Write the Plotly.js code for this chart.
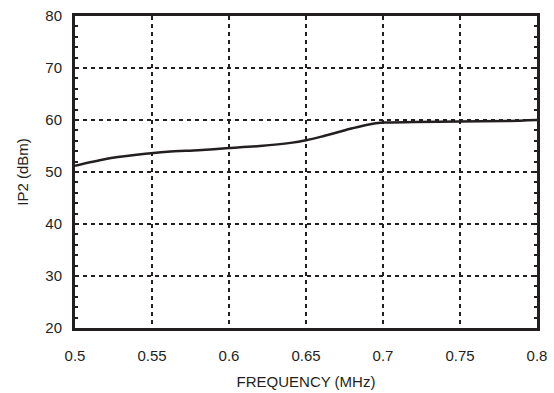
<!DOCTYPE html>
<html>
<head>
<meta charset="utf-8">
<script src="https://cdn.plot.ly/plotly-3.0.1.min.js"></script>
<style>html,body{margin:0;padding:0;background:#fff;}#chart{width:554px;height:393px;}</style>
</head>
<body>
<div id="chart"></div>
<script>
const freqMHz = [0.5, 0.52, 0.54, 0.56, 0.58, 0.6, 0.62, 0.64, 0.65, 0.66, 0.67, 0.68, 0.69, 0.7, 0.72, 0.75, 0.78, 0.8];
const ip2dBm  = [51.2, 52.5, 53.3, 53.9, 54.2, 54.6, 55.0, 55.6, 56.1, 56.8, 57.6, 58.4, 59.1, 59.5, 59.6, 59.7, 59.8, 60.0];
const xTicks = [0.5, 0.55, 0.6, 0.65, 0.7, 0.75, 0.8];
const xTickLabels = ['0.5', '0.55', '0.6', '0.65', '0.7', '0.75', '0.8'];
const yTicks = [20, 30, 40, 50, 60, 70, 80];

const font = {family: 'Liberation Sans, Arial, sans-serif', size: 15, color: '#231f20'};

Plotly.newPlot('chart', [{
  x: freqMHz, y: ip2dBm, type: 'scatter', mode: 'lines',
  line: {color: '#231f20', width: 2.5, shape: 'spline', smoothing: 0.8}
}], {
  width: 554, height: 393,
  margin: {l: 75, r: 17, t: 16, b: 65},
  paper_bgcolor: '#fff', plot_bgcolor: '#fff',
  font: font,
  showlegend: false,
  xaxis: {
    range: [0.5, 0.8], tickvals: xTicks, ticktext: xTickLabels,
    showline: true, linewidth: 3, linecolor: '#231f20', mirror: true,
    ticks: '', ticklabelstandoff: 12,
    showgrid: true, gridcolor: '#231f20', gridwidth: 2, griddash: '4px,4px',
    zeroline: false, tickfont: font,
    title: {text: 'FREQUENCY (MHz)', font: font, standoff: 14}
  },
  yaxis: {
    range: [20, 80], tickvals: yTicks,
    showline: true, linewidth: 3, linecolor: '#231f20', mirror: 'ticks',
    ticks: 'inside', ticklen: 3, tickwidth: 2, tickcolor: '#231f20', ticklabelstandoff: 7,
    minor: {dtick: 2, ticks: 'inside', ticklen: 3, tickwidth: 2, tickcolor: '#231f20', showgrid: false},
    showgrid: true, gridcolor: '#231f20', gridwidth: 2, griddash: '4px,4px',
    zeroline: false, tickfont: font,
    title: {text: 'IP2 (dBm)', font: font, standoff: 14}
  }
}, {displayModeBar: false, staticPlot: true});
</script>
</body>
</html>
